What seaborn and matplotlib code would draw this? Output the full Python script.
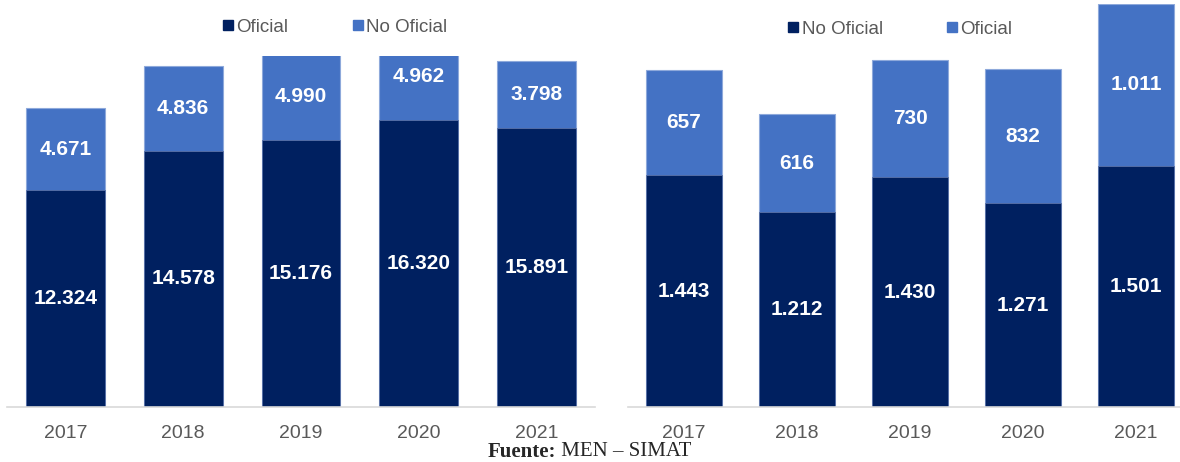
import matplotlib
matplotlib.use("Agg")
import matplotlib.pyplot as plt
import seaborn as sns
import pandas as pd
from matplotlib.lines import Line2D

years = ["2017", "2018", "2019", "2020", "2021"]

# Left panel
left_bottom_name = "Oficial"
left_top_name = "No Oficial"
left_bottom = [12324, 14578, 15176, 16320, 15891]
left_top = [4671, 4836, 4990, 4962, 3798]

# Right panel
right_bottom_name = "No Oficial"
right_top_name = "Oficial"
right_bottom = [1443, 1212, 1430, 1271, 1501]
right_top = [657, 616, 730, 832, 1011]

DARK = "#002060"
LIGHT = "#4472C4"
GRAY = "#595959"

sns.set_theme(style="white")
plt.rcParams["font.family"] = ["Liberation Sans", "DejaVu Sans"]

W, H = 1180, 462
fig = plt.figure(figsize=(W / 100, H / 100), dpi=100)


def fig_rect(x0, x1, ytop, ybot):
    return [x0 / W, (H - ybot) / H, (x1 - x0) / W, (ybot - ytop) / H]


def fmt(v):
    return f"{v:,}".replace(",", ".")


def panel(ax, bottom, top, ymax, bname, tname, legend_center_x, legend_y):
    df = pd.DataFrame({"year": years, "bottom": bottom,
                       "total": [b + t for b, t in zip(bottom, top)]})
    sns.barplot(data=df, x="year", y="total", color=LIGHT, width=0.67,
                saturation=1, edgecolor="#8EA9DB", linewidth=0.8, ax=ax)
    sns.barplot(data=df, x="year", y="bottom", color=DARK, width=0.67,
                saturation=1, edgecolor="#5B73A8", linewidth=0.6, ax=ax)
    ax.set_ylim(0, ymax)
    ax.set_xlim(-0.5, 4.5)
    ax.set_xlabel("")
    ax.set_ylabel("")
    ax.set_yticks([])
    for s in ["left", "right", "top"]:
        ax.spines[s].set_visible(False)
    ax.spines["bottom"].set_color("#D9D9D9")
    ax.spines["bottom"].set_linewidth(1.2)
    ax.tick_params(axis="x", length=0, pad=13, labelsize=14, labelcolor=GRAY)
    for i, (b, t) in enumerate(zip(bottom, top)):
        ax.text(i, b / 2, fmt(b), ha="center", va="center", color="white",
                fontsize=15, fontweight="bold", clip_on=False)
        ax.text(i, b + t / 2, fmt(t), ha="center", va="center", color="white",
                fontsize=15, fontweight="bold", clip_on=False)
    handles = [
        Line2D([], [], marker="s", linestyle="", markersize=7.5, color=DARK,
               label=bname),
        Line2D([], [], marker="s", linestyle="", markersize=7.5, color=LIGHT,
               label=tname),
    ]
    fig.legend(handles=handles, loc="center",
               bbox_to_anchor=(legend_center_x / W, (H - legend_y) / H),
               ncol=2, frameon=False, fontsize=13.5, labelcolor=GRAY,
               handlelength=0.6, handletextpad=0.15, columnspacing=3.4,
               borderpad=0)


ax1 = fig.add_axes(fig_rect(6.6, 595.4, 55.6, 407))
panel(ax1, left_bottom, left_top, 20000, left_bottom_name, left_top_name,
      335, 27)

ax2 = fig.add_axes(fig_rect(627.5, 1192.5, 4, 407))
panel(ax2, right_bottom, right_top, 2511, right_bottom_name, right_top_name,
      900, 29)

split_x = 556 / W
fig.text(split_x, (H - 452) / H, "Fuente:", ha="right", va="center",
         fontsize=15, fontweight="bold", family="Liberation Serif")
fig.text(split_x, (H - 452) / H, " MEN – SIMAT", ha="left", va="center",
         fontsize=15, family="Liberation Serif")

fig.savefig("out.png", dpi=100)
